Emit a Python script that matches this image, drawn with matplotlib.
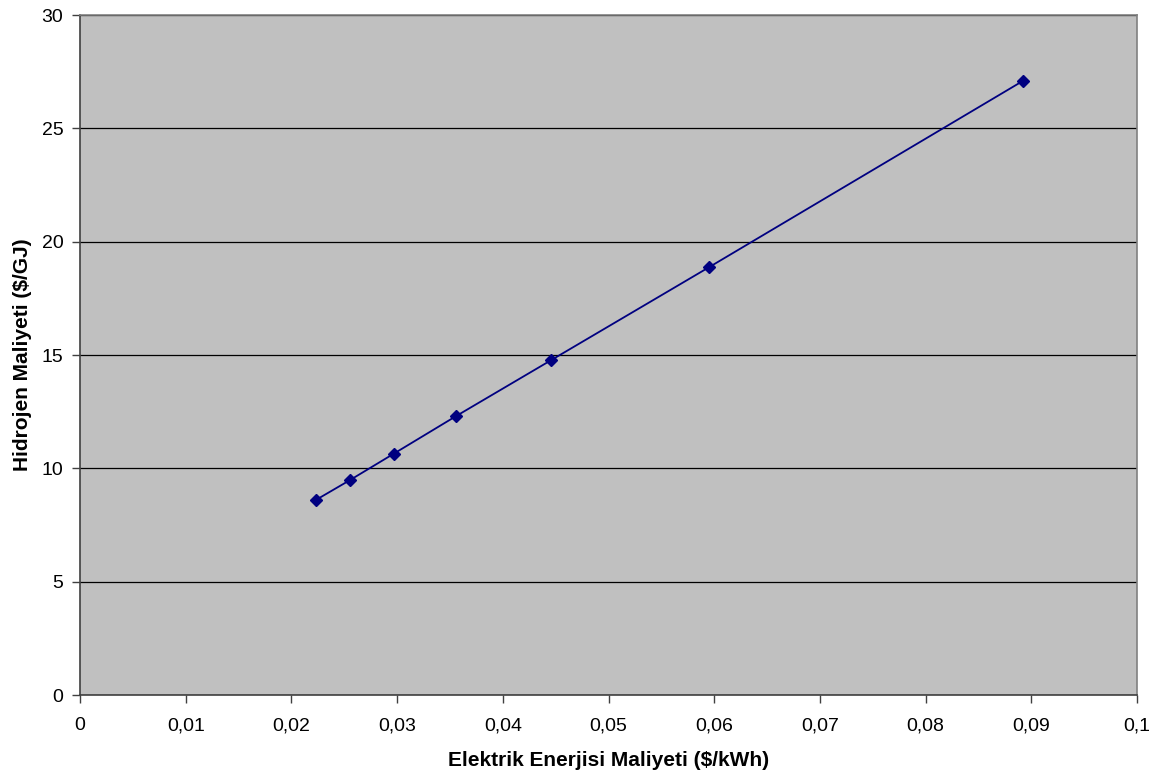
import matplotlib.pyplot as plt
from matplotlib.ticker import FuncFormatter, MultipleLocator

plt.rcParams['font.family'] = ['Liberation Sans', 'DejaVu Sans']

# electricity cost ($/kWh) vs hydrogen cost ($/GJ)
elec_cost = [0.0223, 0.0255, 0.0297, 0.0356, 0.0446, 0.0595, 0.0892]
h2_cost = [8.60, 9.47, 10.65, 12.31, 14.78, 18.87, 27.09]

fig = plt.figure(figsize=(11.67, 7.77), dpi=100)
ax = fig.add_axes([80 / 1167, 82 / 777, 1057 / 1167, 680 / 777])
ax.set_facecolor('#C0C0C0')

ax.plot(elec_cost, h2_cost, color='#000080', lw=1.3, marker='D', ms=6,
        markerfacecolor='#000080', markeredgecolor='#000080', zorder=3)

ax.set_xlim(0, 0.1)
ax.set_ylim(0, 30)
ax.xaxis.set_major_locator(MultipleLocator(0.01))
ax.yaxis.set_major_locator(MultipleLocator(5))


def comma_fmt(v, pos):
    s = ('%.2f' % v).rstrip('0').rstrip('.')
    return s.replace('.', ',')


ax.xaxis.set_major_formatter(FuncFormatter(comma_fmt))
ax.yaxis.set_major_formatter(FuncFormatter(lambda v, p: '%d' % v))

ax.grid(axis='y', color='black', lw=0.9)
ax.set_axisbelow(True)

for s in ['left', 'bottom']:
    ax.spines[s].set_color('#404040')
    ax.spines[s].set_linewidth(1.2)
for s in ['top', 'right']:
    ax.spines[s].set_color('#808080')
    ax.spines[s].set_linewidth(1.2)

ax.tick_params(axis='both', direction='out', length=6, width=1, color='#404040',
               labelsize=14, labelcolor='black')
ax.tick_params(axis='x', pad=10)
ax.tick_params(axis='y', pad=6)

ax.set_xlabel('Elektrik Enerjisi Maliyeti ($/kWh)', fontsize=15, fontweight='bold', labelpad=12)
ax.set_ylabel('Hidrojen Maliyeti ($/GJ)', fontsize=15, fontweight='bold', labelpad=7)

fig.savefig('out.png', dpi=100)
